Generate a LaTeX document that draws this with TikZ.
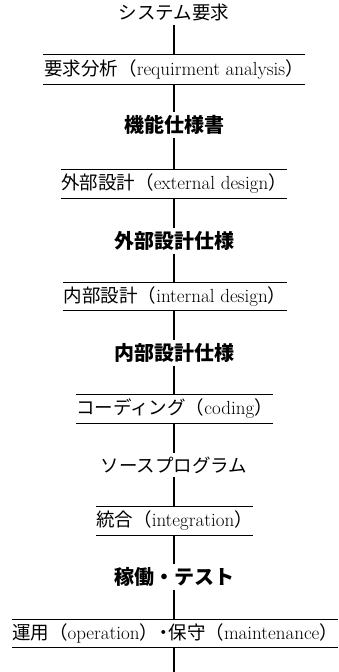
\documentclass[tikz,border=0pt]{standalone}
\usepackage{fontspec}
\newfontfamily\jp{Noto Sans CJK JP}
\newcommand{\J}[1]{{\fontsize{18.5}{21}\selectfont\jp #1}}
\tikzset{
  conn/.style={line width=1.6pt},
  rule/.style={line width=1.1pt},
  docnode/.style={inner sep=3pt, font=\fontsize{20}{22}\selectfont\jp\bfseries},
  kananode/.style={inner sep=3pt, font=\fontsize{18.5}{21}\selectfont\jp},
  stage/.style={inner sep=0pt, minimum height=28pt, font=\fontsize{19}{21}\selectfont,
    append after command={(\tikzlastnode.north west) edge[rule] (\tikzlastnode.north east)
      (\tikzlastnode.south west) edge[rule] (\tikzlastnode.south east)}}
}
\begin{document}
\begin{tikzpicture}[x=1pt,y=1pt]
\useasboundingbox (0,0) rectangle (338,-672);
\node[kananode] (t0) at (174,-13) {システム要求};
\node[stage, minimum width=262pt, minimum height=29pt] (b1) at (174,-69.5) {\J{要求分析（}requirment analysis\J{）}};
\node[docnode] (t1) at (174,-125) {機能仕様書};
\node[stage, minimum width=226pt] (b2) at (174,-184) {\J{外部設計（}external design\J{）}};
\node[docnode] (t2) at (174,-241) {外部設計仕様};
\node[stage, minimum width=224pt, minimum height=27pt] (b3) at (175,-296.5) {\J{内部設計（}internal design\J{）}};
\node[docnode] (t3) at (174,-353) {内部設計仕様};
\node[stage, minimum width=195pt] (b4) at (174.5,-409) {\J{コーディング（}coding\J{）}};
\node[kananode] (t4) at (174,-465) {ソースプログラム};
\node[stage, minimum width=151pt] (b5) at (174.5,-521) {\J{統合（}integration\J{）}};
\node[docnode] (t5) at (174,-577) {稼働・テスト};
\node[stage, minimum width=324pt, minimum height=27pt] (b6) at (175,-633.5) {\J{運用（}operation\J{）\kern-4pt・\kern-4pt 保守（}maintenance\J{）}};
\coordinate (end) at (174,-672);
\draw[conn] (t0.south) -- (t0.south |- b1.north);
\draw[conn] (t1.north |- b1.south) -- (t1.north);
\draw[conn] (t1.south) -- (t1.south |- b2.north);
\draw[conn] (t2.north |- b2.south) -- (t2.north);
\draw[conn] (t2.south) -- (t2.south |- b3.north);
\draw[conn] (t3.north |- b3.south) -- (t3.north);
\draw[conn] (t3.south) -- (t3.south |- b4.north);
\draw[conn] (t4.north |- b4.south) -- (t4.north);
\draw[conn] (t4.south) -- (t4.south |- b5.north);
\draw[conn] (t5.north |- b5.south) -- (t5.north);
\draw[conn] (t5.south) -- (t5.south |- b6.north);
\draw[conn] (end |- b6.south) -- (end);
\end{tikzpicture}
\end{document}
